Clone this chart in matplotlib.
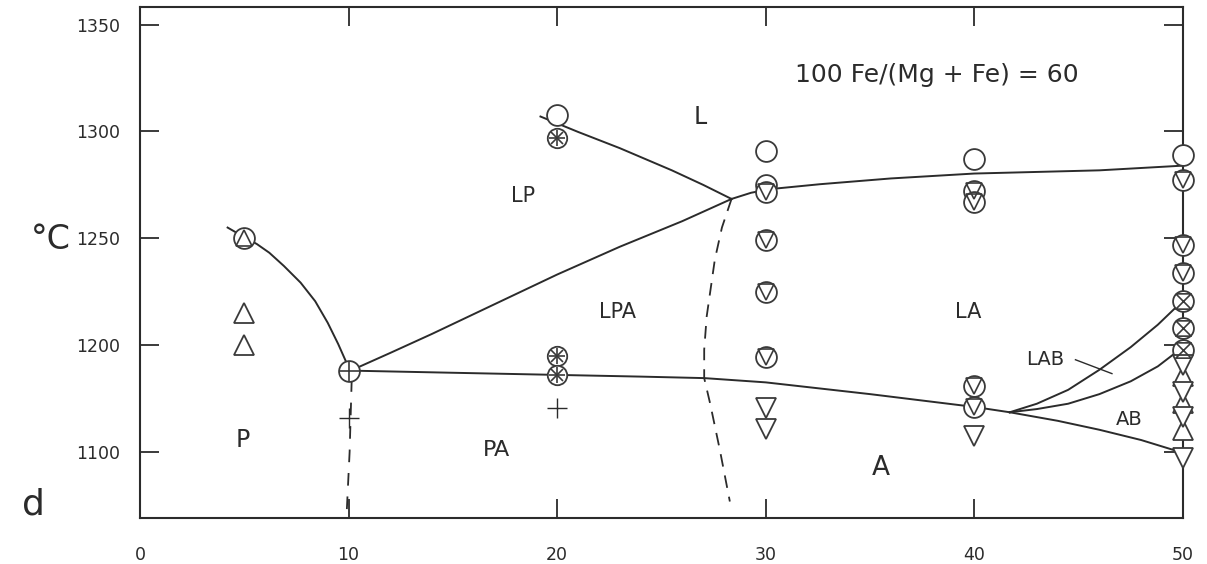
import matplotlib
matplotlib.use("Agg")
import matplotlib.pyplot as plt

plt.rcParams['font.family'] = ['DejaVu Sans']

# axis ticks (the original labels the 1150 position as "1100")
x_ticks = [0, 10, 20, 30, 40, 50]
y_ticks = [1350, 1300, 1250, 1200, 1150]
y_tick_labels = ["1350", "1300", "1250", "1200", "1100"]

# ---------------------------------------------------------
# experimental points (x = composition, t = temperature)
# ---------------------------------------------------------
open_circle_x = [20, 30, 30, 40, 50]
open_circle_t = [1307.8, 1291, 1275, 1287, 1289]

circ_tri_down_x = [30, 30, 30, 30, 40, 40, 40, 40, 50, 50, 50]
circ_tri_down_t = [1271.5, 1249.3, 1224.6, 1194.3, 1272, 1267, 1180.6, 1171,
                   1277.4, 1247, 1233.7]

circ_hourglass_x = [50, 50, 50]
circ_hourglass_t = [1220.4, 1208, 1197.8]

circ_star_x = [20, 20, 20]
circ_star_t = [1297, 1195, 1186]

circ_plus_x = [10]
circ_plus_t = [1188]

circ_tri_up_x = [5]
circ_tri_up_t = [1250]

tri_up_x = [5, 5, 50, 50, 50]
tri_up_t = [1215, 1200, 1185.3, 1172.8, 1160.3]

tri_down_x = [30, 30, 40, 50, 50, 50, 50]
tri_down_t = [1170.5, 1160.6, 1157.2, 1190.8, 1178.2, 1166.5, 1147.1]

plus_x = [10, 20]
plus_t = [1166, 1170.5]

# ---------------------------------------------------------
# phase boundaries
# ---------------------------------------------------------
p_liq_x = [4.2, 5, 5.6, 6.2, 6.9, 7.7, 8.4, 9.0, 9.5, 9.9, 10.1]
p_liq_t = [1255, 1250.5, 1247.3, 1243.2, 1237, 1229.2, 1220.5, 1210.4,
           1200.5, 1191.7, 1188]

lp_lpa_x = [10.1, 12, 14, 17.3, 20, 23, 26, 28.36]
lp_lpa_t = [1188, 1196.3, 1205.2, 1220.5, 1233, 1246, 1258, 1268.4]

l_lp_x = [19.2, 21, 23, 25.5, 27, 28.36]
l_lp_t = [1307, 1299.8, 1292.2, 1281.8, 1275, 1268.4]

a_liq_x = [28.36, 29.3, 30.2, 32.6, 36, 40, 46, 50]
a_liq_t = [1268.4, 1271.3, 1273, 1275.3, 1278, 1280.3, 1281.8, 1284]

solidus_x = [10.1, 15, 20, 24, 27.05, 30, 35, 40, 41.7]
solidus_t = [1188, 1187, 1186, 1185.2, 1184.5, 1182.5, 1177, 1171, 1168.5]

lab_upper_x = [41.7, 43, 44.5, 46, 47.5, 48.8, 49.6]
lab_upper_t = [1168.5, 1172.5, 1179, 1188.4, 1199, 1209.5, 1217]

lab_lower_x = [41.7, 43, 44.5, 46, 47.5, 48.8, 49.6]
lab_lower_t = [1168.5, 1170, 1172.5, 1177, 1183, 1190, 1196]

ab_a_x = [41.7, 44, 46, 48, 50]
ab_a_t = [1168.5, 1164.5, 1160.3, 1155.5, 1149.5]

dash_pa_x = [28.36, 27.9, 27.56, 27.17, 27.05, 27.05, 27.33, 27.8, 28.28]
dash_pa_t = [1268.4, 1255, 1240, 1213.4, 1197.8, 1184.5, 1172.8, 1150.9,
             1126.7]

dash_p_x = [10.15, 10.05, 9.9]
dash_p_t = [1184, 1150, 1119.5]

lab_leader_x = [44.85, 46.6]
lab_leader_t = [1193.1, 1186.6]

# region labels
region_names = ["L", "LP", "LPA", "LA", "LAB", "AB", "P", "PA", "A"]
region_x = [26.85, 18.36, 22.87, 39.7, 43.4, 47.45, 4.94, 17.1, 35.5]
region_t = [1306.9, 1270, 1215.6, 1215.6, 1193, 1165, 1155.6, 1151, 1142.5]
region_size = [17, 15, 15, 15, 14, 14, 17, 16, 19]

INK = "#2b2b2b"
MK = "#3a3a3a"

fig = plt.figure(figsize=(12.07, 5.64), dpi=100)
ax = fig.add_axes([0.116, 0.082, 0.864, 0.906])

# boundaries
line_kw = dict(color=INK, lw=1.4, zorder=2, solid_joinstyle="round")
ax.plot(p_liq_x, p_liq_t, **line_kw)
ax.plot(lp_lpa_x, lp_lpa_t, **line_kw)
ax.plot(l_lp_x, l_lp_t, **line_kw)
ax.plot(a_liq_x, a_liq_t, **line_kw)
ax.plot(solidus_x, solidus_t, **line_kw)
ax.plot(lab_upper_x, lab_upper_t, **line_kw)
ax.plot(lab_lower_x, lab_lower_t, **line_kw)
ax.plot(ab_a_x, ab_a_t, **line_kw)
ax.plot(lab_leader_x, lab_leader_t, color=INK, lw=1.0, zorder=2)
ax.plot(dash_pa_x, dash_pa_t, color=INK, lw=1.3, ls=(0, (7, 5)), zorder=2)
ax.plot(dash_p_x, dash_p_t, color=INK, lw=1.3, ls=(0, (7, 6)), zorder=2)

# markers
mk = dict(ls="none", mfc="white", mec=MK, mew=1.3, clip_on=False, zorder=4)
inner = dict(ls="none", mfc="none", mec=MK, mew=1.2, clip_on=False, zorder=5)
hourglass = [(-1, 1), (1, 1), (-1, -1), (1, -1), (-1, 1)]

ax.plot(open_circle_x, open_circle_t, marker="o", ms=15, **mk)

ax.plot(circ_tri_down_x, circ_tri_down_t, marker="o", ms=15, **mk)
ax.plot(circ_tri_down_x, circ_tri_down_t, marker="v", ms=12, **inner)

ax.plot(circ_hourglass_x, circ_hourglass_t, marker="o", ms=15, **mk)
ax.plot(circ_hourglass_x, circ_hourglass_t, marker=hourglass, ms=11, **inner)

ax.plot(circ_star_x, circ_star_t, marker="o", ms=14, **mk)
ax.plot(circ_star_x, circ_star_t, marker="+", ms=12, **inner)
ax.plot(circ_star_x, circ_star_t, marker="x", ms=9, **inner)

ax.plot(circ_plus_x, circ_plus_t, marker="o", ms=15, **mk)
ax.plot(circ_plus_x, circ_plus_t, marker="+", ms=15, **inner)

ax.plot(circ_tri_up_x, circ_tri_up_t, marker="o", ms=15, **mk)
ax.plot(circ_tri_up_x, circ_tri_up_t, marker="^", ms=12, **inner)

ax.plot(tri_up_x, tri_up_t, marker="^", ms=14, **mk)
ax.plot(tri_down_x, tri_down_t, marker="v", ms=14, **mk)
ax.plot(plus_x, plus_t, marker="+", ms=14, ls="none", mec=INK, mew=1.0,
        clip_on=False, zorder=4)

# labels
for name, x, t, s in zip(region_names, region_x, region_t, region_size):
    ax.text(x, t, name, ha="center", va="center", fontsize=s, color=INK)

ax.text(38.2, 1326.6, "100 Fe/(Mg + Fe) = 60", ha="center", va="center",
        fontsize=18, color=INK)

# axes styling
ax.set_xlim(0, 50)
ax.set_ylim(1119.1, 1358.4)
ax.set_xticks(x_ticks)
ax.set_yticks(y_ticks)
ax.set_yticklabels(y_tick_labels)
ax.tick_params(direction="in", length=14, width=1.3, colors=INK,
               labelsize=12.5, top=True, right=True)
ax.tick_params(axis="x", pad=20)
ax.tick_params(axis="y", pad=14)
for sp in ax.spines.values():
    sp.set_linewidth(1.5)
    sp.set_color(INK)

fig.text(0.042, 0.575, "°C", fontsize=24, color=INK, ha="center", va="center")
fig.text(0.028, 0.105, "d", fontsize=26, color=INK, ha="center", va="center")

fig.savefig("out.png", dpi=100, facecolor="white")
